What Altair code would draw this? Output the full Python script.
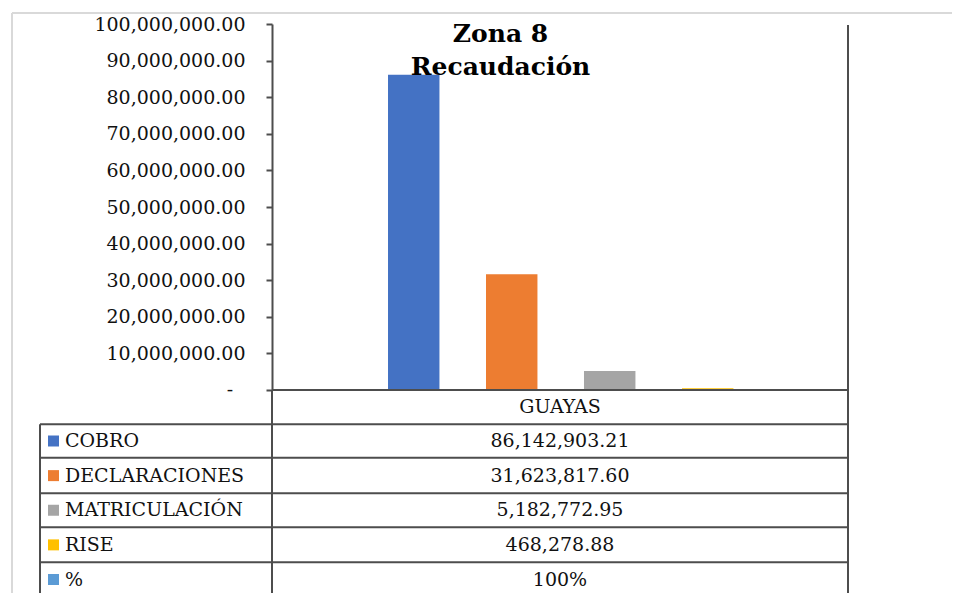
import altair as alt
import pandas as pd

# ---- data ----
series = ["COBRO", "DECLARACIONES", "MATRICULACIÓN", "RISE", "%"]
values = [86142903.21, 31623817.60, 5182772.95, 468278.88, 1.0]
value_labels = ["86,142,903.21", "31,623,817.60", "5,182,772.95", "468,278.88", "100%"]
colors = ["#4472C4", "#ED7D31", "#A5A5A5", "#FFC000", "#5B9BD5"]
region = "GUAYAS"
title_lines = "Zona 8\nRecaudación"
y_ticks = [i * 10_000_000 for i in range(11)]
zero_label = "-"

df = pd.DataFrame({"serie": series, "valor": values, "etiqueta": value_labels})
one = pd.DataFrame({"k": [0]})

FONT = "DejaVu Serif"
FS = 19
LINE = "#4d4d4d"
TXT = "#111111"
W, H = 576, 366

color_scale = alt.Scale(domain=series, range=colors)
row_scale = alt.Scale(type="point", domain=series, range=[417, 555.5], padding=0)
y_scale = alt.Scale(domain=[0, 100_000_000], nice=False)
y_axis = alt.Axis(values=y_ticks, title=None, grid=False, labelOverlap=False,
                  labelExpr="datum.value == 0 ? '' : format(datum.value, ',.2f')",
                  labelFont=FONT, labelFontSize=FS, labelColor=TXT,
                  labelPadding=21, tickSize=6, tickColor=LINE, tickWidth=2,
                  domainColor=LINE, domainWidth=2)

bars = alt.Chart(df).mark_bar().encode(
    x=alt.X("serie:N", sort=series, axis=None,
            scale=alt.Scale(domain=series, paddingInner=0.475, paddingOuter=0.6765, align=0.875)),
    y=alt.Y("valor:Q", scale=y_scale, axis=y_axis),
    color=alt.Color("serie:N", scale=color_scale, legend=None),
)

dash = alt.Chart(one).mark_text(
    text=zero_label, font=FONT, fontSize=FS, color=TXT, align="center", baseline="middle"
).encode(x=alt.value(-42), y=alt.datum(0, type="quantitative", scale=y_scale, axis=y_axis))

plot = alt.layer(bars, dash)

def hrule(y, x1, x2, color=LINE, w=2):
    return alt.Chart(one).mark_rule(color=color, strokeWidth=w).encode(
        x=alt.value(x1), x2=alt.value(x2), y=alt.value(y))

def vrule(x, y1, y2, color=LINE, w=2):
    return alt.Chart(one).mark_rule(color=color, strokeWidth=w).encode(
        x=alt.value(x), y=alt.value(y1), y2=alt.value(y2))

BOTTOM = 575
rules = [
    hrule(-11, -260, 700, color="#d9d9d9"),
    vrule(-260, -11, BOTTOM, color="#d9d9d9"),
    hrule(H, 0, W),
    vrule(0, H, BOTTOM),
    vrule(W, 1, BOTTOM),
    vrule(-232, 400.3, BOTTOM),
]
for yy in [400.3, 433.7, 469.3, 503.3, 538.3]:
    rules.append(hrule(yy, -232, W))

title = alt.Chart(pd.DataFrame({"t": [title_lines]})).mark_text(
    font=FONT, fontSize=25, fontWeight="bold", color="#000000",
    lineBreak="\n", lineHeight=33, align="center", baseline="alphabetic"
).encode(x=alt.value(228.5), y=alt.value(17.7), text="t:N")

region_text = alt.Chart(pd.DataFrame({"r": [region]})).mark_text(
    font=FONT, fontSize=FS, color=TXT, align="center", baseline="middle"
).encode(x=alt.value(288), y=alt.value(383), text="r:N")

squares = alt.Chart(df).mark_square(size=121, opacity=1).encode(
    x=alt.value(-218.5),
    y=alt.Y("serie:N", sort=series, scale=row_scale, axis=None),
    color=alt.Color("serie:N", scale=color_scale, legend=None),
)

names = alt.Chart(df).mark_text(
    font=FONT, fontSize=FS, color=TXT, align="left", baseline="middle"
).encode(
    x=alt.value(-207),
    y=alt.Y("serie:N", sort=series, scale=row_scale, axis=None),
    text="serie:N",
)

vals = alt.Chart(df).mark_text(
    font=FONT, fontSize=FS, color=TXT, align="center", baseline="middle"
).encode(
    x=alt.value(288),
    y=alt.Y("serie:N", sort=series, scale=row_scale, axis=None),
    text="etiqueta:N",
)

table = alt.layer(squares, names, vals)

chart = alt.layer(plot, *rules, title, region_text, table).resolve_scale(
    y="independent"
).properties(
    width=W, height=H,
    padding={"left": 264, "top": 16, "right": 104, "bottom": 203},
    autosize=alt.AutoSizeParams(type="none"),
    background="white",
).configure_view(stroke=None)

chart.save("out.html", embed_options={"renderer": "svg", "actions": False})
